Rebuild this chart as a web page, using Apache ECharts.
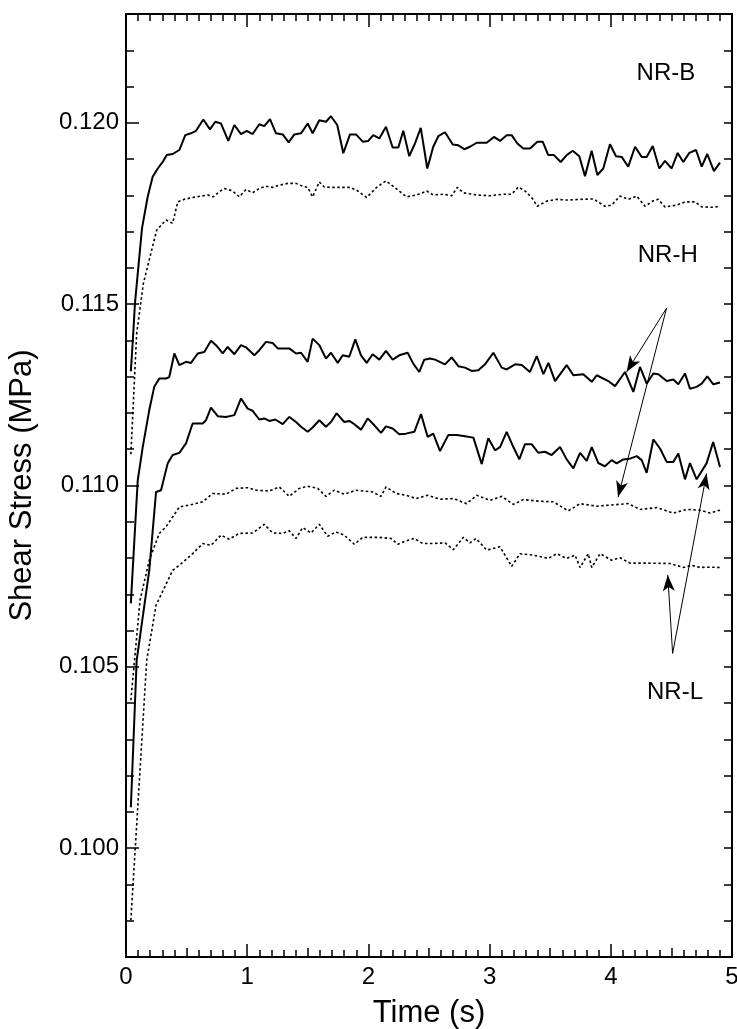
<!DOCTYPE html>
<html>
<head>
<meta charset="utf-8">
<script src="https://cdn.jsdelivr.net/npm/echarts@6/dist/echarts.min.js"></script>
<style>
  html, body { margin: 0; padding: 0; background: #fff; }
  #divChart { width: 737px; height: 1029px; }
</style>
</head>
<body>
<div id="divChart"></div>
<script>
// values, [time (s), shear stress (MPa)]
var nrbSolid = [[0.04,0.11315],[0.058,0.11409],[0.074,0.11503],[0.132,0.11709],[0.179,0.11796],[0.220,0.11851],[0.262,0.11874],[0.303,0.11892],[0.336,0.11911],[0.385,0.11914],[0.440,0.11925],[0.489,0.11966],[0.536,0.11971],[0.578,0.11978],[0.638,0.12009],[0.693,0.11982],[0.737,0.12003],[0.784,0.11998],[0.844,0.11950],[0.894,0.11994],[0.949,0.11969],[0.996,0.11978],[1.045,0.11969],[1.100,0.11996],[1.141,0.11991],[1.188,0.12010],[1.238,0.11971],[1.293,0.11968],[1.342,0.11946],[1.389,0.11968],[1.444,0.11971],[1.499,0.11998],[1.540,0.11971],[1.595,0.12007],[1.650,0.12003],[1.691,0.12018],[1.743,0.11994],[1.793,0.11916],[1.848,0.11968],[1.898,0.11968],[1.953,0.11948],[1.999,0.11950],[2.040,0.11966],[2.090,0.11957],[2.145,0.11989],[2.200,0.11932],[2.247,0.11932],[2.288,0.11978],[2.337,0.11908],[2.384,0.11943],[2.432,0.11986],[2.486,0.11874],[2.535,0.11934],[2.577,0.11963],[2.632,0.11974],[2.696,0.11940],[2.742,0.11938],[2.792,0.11927],[2.838,0.11934],[2.894,0.11945],[2.976,0.11945],[3.036,0.11961],[3.086,0.11950],[3.141,0.11966],[3.182,0.11966],[3.229,0.11943],[3.278,0.11929],[3.333,0.11929],[3.394,0.11948],[3.438,0.11948],[3.484,0.11911],[3.531,0.11911],[3.587,0.11892],[3.636,0.11911],[3.686,0.11923],[3.740,0.11908],[3.787,0.11853],[3.842,0.11923],[3.889,0.11856],[3.938,0.11874],[3.993,0.11941],[4.043,0.11908],[4.090,0.11906],[4.144,0.11879],[4.200,0.11934],[4.255,0.11906],[4.296,0.11906],[4.346,0.11936],[4.400,0.11874],[4.447,0.11895],[4.502,0.11874],[4.552,0.11917],[4.598,0.11892],[4.648,0.11917],[4.703,0.11925],[4.750,0.11879],[4.796,0.11914],[4.851,0.11867],[4.901,0.11890]];

var nrbDotted = [[0.04,0.11086],[0.088,0.11419],[0.143,0.11557],[0.253,0.11704],[0.330,0.11732],[0.385,0.11723],[0.427,0.11782],[0.481,0.11789],[0.550,0.11794],[0.619,0.11798],[0.674,0.11801],[0.720,0.11796],[0.770,0.11810],[0.811,0.11819],[0.880,0.11812],[0.935,0.11796],[0.990,0.11816],[1.045,0.11807],[1.100,0.11819],[1.155,0.11825],[1.210,0.11822],[1.265,0.11828],[1.334,0.11833],[1.403,0.11833],[1.458,0.11825],[1.499,0.11822],[1.540,0.11796],[1.595,0.11837],[1.636,0.11823],[1.705,0.11822],[1.766,0.11822],[1.848,0.11822],[1.903,0.11814],[1.986,0.11794],[2.068,0.11822],[2.145,0.11840],[2.205,0.11825],[2.261,0.11810],[2.316,0.11796],[2.399,0.11801],[2.481,0.11812],[2.535,0.11801],[2.618,0.11803],[2.687,0.11799],[2.734,0.11822],[2.783,0.11807],[2.894,0.11801],[3.003,0.11799],[3.113,0.11803],[3.182,0.11803],[3.237,0.11823],[3.292,0.11812],[3.347,0.11794],[3.394,0.11770],[3.471,0.11784],[3.554,0.11789],[3.636,0.11787],[3.746,0.11789],[3.856,0.11790],[3.952,0.11770],[4.007,0.11773],[4.076,0.11798],[4.144,0.11789],[4.214,0.11798],[4.282,0.11770],[4.351,0.11785],[4.392,0.11789],[4.447,0.11768],[4.544,0.11773],[4.612,0.11782],[4.695,0.11782],[4.750,0.11768],[4.846,0.11767],[4.901,0.11770]];

var nrhSolid = [[0.04,0.10675],[0.055,0.10766],[0.097,0.11015],[0.138,0.11106],[0.192,0.11208],[0.233,0.11272],[0.275,0.11295],[0.330,0.11295],[0.357,0.11299],[0.399,0.11364],[0.440,0.11332],[0.495,0.11341],[0.536,0.11338],[0.592,0.11364],[0.646,0.11368],[0.701,0.11399],[0.743,0.11387],[0.798,0.11364],[0.839,0.11382],[0.894,0.11362],[0.949,0.11387],[0.990,0.11381],[1.059,0.11359],[1.100,0.11373],[1.155,0.11396],[1.210,0.11393],[1.252,0.11378],[1.347,0.11378],[1.403,0.11364],[1.444,0.11366],[1.499,0.11341],[1.540,0.11405],[1.595,0.11387],[1.650,0.11350],[1.691,0.11366],[1.747,0.11338],[1.788,0.11359],[1.842,0.11355],[1.892,0.11403],[1.939,0.11359],[1.986,0.11338],[2.035,0.11362],[2.090,0.11347],[2.145,0.11371],[2.200,0.11347],[2.255,0.11359],[2.324,0.11366],[2.370,0.11336],[2.420,0.11313],[2.461,0.11347],[2.508,0.11350],[2.550,0.11347],[2.632,0.11334],[2.687,0.11353],[2.742,0.11329],[2.797,0.11325],[2.852,0.11316],[2.907,0.11318],[2.962,0.11334],[3.031,0.11366],[3.100,0.11325],[3.141,0.11320],[3.210,0.11334],[3.265,0.11332],[3.333,0.11313],[3.389,0.11357],[3.444,0.11307],[3.485,0.11338],[3.540,0.11288],[3.636,0.11332],[3.691,0.11304],[3.773,0.11307],[3.843,0.11286],[3.884,0.11304],[3.979,0.11288],[4.035,0.11274],[4.117,0.11313],[4.186,0.11258],[4.241,0.11327],[4.296,0.11281],[4.351,0.11309],[4.392,0.11307],[4.461,0.11288],[4.516,0.11292],[4.557,0.11279],[4.612,0.11309],[4.653,0.11267],[4.708,0.11272],[4.750,0.11281],[4.796,0.11301],[4.846,0.11279],[4.901,0.11284]];

var nrlSolid = [[0.04,0.10113],[0.088,0.10518],[0.192,0.10766],[0.248,0.10982],[0.289,0.10987],[0.344,0.11061],[0.385,0.11084],[0.440,0.11090],[0.495,0.11116],[0.550,0.11171],[0.633,0.11171],[0.660,0.11180],[0.701,0.11215],[0.757,0.11191],[0.825,0.11189],[0.894,0.11194],[0.949,0.11240],[1.004,0.11212],[1.045,0.11206],[1.100,0.11182],[1.141,0.11185],[1.182,0.11178],[1.232,0.11182],[1.293,0.11169],[1.347,0.11189],[1.403,0.11175],[1.444,0.11162],[1.499,0.11148],[1.540,0.11160],[1.595,0.11180],[1.650,0.11162],[1.691,0.11175],[1.738,0.11199],[1.801,0.11175],[1.842,0.11178],[1.884,0.11169],[1.939,0.11154],[1.994,0.11185],[2.049,0.11166],[2.104,0.11145],[2.145,0.11163],[2.200,0.11157],[2.255,0.11141],[2.310,0.11143],[2.379,0.11148],[2.434,0.11197],[2.489,0.11134],[2.535,0.11143],[2.591,0.11095],[2.659,0.11139],[2.729,0.11139],[2.797,0.11136],[2.866,0.11132],[2.935,0.11059],[2.989,0.11130],[3.045,0.11097],[3.086,0.11106],[3.141,0.11148],[3.196,0.11106],[3.245,0.11072],[3.292,0.11114],[3.347,0.11114],[3.402,0.11090],[3.457,0.11093],[3.512,0.11084],[3.581,0.11106],[3.636,0.11072],[3.691,0.11047],[3.746,0.11090],[3.801,0.11068],[3.843,0.11106],[3.897,0.11062],[3.952,0.11053],[4.007,0.11070],[4.048,0.11061],[4.103,0.11072],[4.158,0.11074],[4.214,0.11081],[4.255,0.11070],[4.296,0.11035],[4.351,0.11127],[4.406,0.11102],[4.461,0.11065],[4.516,0.11065],[4.557,0.11088],[4.612,0.11017],[4.653,0.11062],[4.708,0.11017],[4.790,0.11061],[4.845,0.11120],[4.901,0.11051]];

var nrhDotted = [[0.04,0.10408],[0.116,0.10684],[0.192,0.10794],[0.233,0.10831],[0.275,0.10868],[0.330,0.10886],[0.385,0.10913],[0.440,0.10941],[0.522,0.10946],[0.633,0.10955],[0.715,0.10978],[0.825,0.10976],[0.908,0.10992],[1.004,0.10994],[1.073,0.10987],[1.182,0.10985],[1.265,0.10996],[1.347,0.10970],[1.430,0.10992],[1.499,0.10998],[1.582,0.10992],[1.650,0.10970],[1.719,0.10987],[1.801,0.10976],[1.898,0.10987],[2.035,0.10982],[2.104,0.10970],[2.145,0.10996],[2.228,0.10978],[2.310,0.10973],[2.393,0.10964],[2.489,0.10973],[2.591,0.10962],[2.701,0.10964],[2.811,0.10950],[2.894,0.10973],[3.003,0.10959],[3.100,0.10970],[3.196,0.10948],[3.278,0.10961],[3.402,0.10957],[3.526,0.10955],[3.649,0.10930],[3.746,0.10950],[3.884,0.10943],[3.993,0.10946],[4.144,0.10950],[4.241,0.10934],[4.379,0.10939],[4.516,0.10924],[4.626,0.10934],[4.736,0.10932],[4.818,0.10924],[4.901,0.10932]];

var nrlDotted = [[0.04,0.09801],[0.171,0.10518],[0.248,0.10670],[0.385,0.10766],[0.440,0.10780],[0.550,0.10812],[0.633,0.10840],[0.701,0.10835],[0.784,0.10863],[0.852,0.10852],[0.935,0.10868],[1.045,0.10869],[1.141,0.10893],[1.210,0.10869],[1.293,0.10868],[1.347,0.10875],[1.403,0.10854],[1.458,0.10884],[1.526,0.10869],[1.595,0.10893],[1.664,0.10860],[1.733,0.10872],[1.801,0.10863],[1.884,0.10838],[1.953,0.10857],[2.090,0.10857],[2.186,0.10854],[2.241,0.10838],[2.310,0.10847],[2.379,0.10854],[2.448,0.10840],[2.535,0.10840],[2.632,0.10842],[2.701,0.10823],[2.783,0.10857],[2.838,0.10842],[2.888,0.10854],[2.976,0.10822],[3.086,0.10831],[3.182,0.10777],[3.251,0.10812],[3.361,0.10808],[3.484,0.10799],[3.554,0.10812],[3.636,0.10799],[3.705,0.10808],[3.746,0.10774],[3.814,0.10812],[3.843,0.10774],[3.911,0.10812],[4.007,0.10794],[4.076,0.10801],[4.158,0.10786],[4.296,0.10786],[4.488,0.10785],[4.598,0.10774],[4.668,0.10780],[4.736,0.10774],[4.818,0.10775],[4.901,0.10774]];

var xLabels = [0, 1, 2, 3, 4, 5];
var xHalf = [0.5, 1.5, 2.5, 3.5, 4.5];
var yLabels = [0.100, 0.105, 0.110, 0.115, 0.120];

// annotations: text position and arrows (tail -> head), in data units
var tagText = [['NR-B', 4.455, 0.12137], ['NR-H', 4.47, 0.11635], ['NR-L', 4.53, 0.1043]];
var arrowLines = [
    [[4.46, 0.11489], [4.13, 0.11313]],
    [[4.46, 0.11489], [4.06, 0.10968]],
    [[4.51, 0.10537], [4.47, 0.10753]],
    [[4.51, 0.10537], [4.79, 0.11033]]
];

var chart;
var FONT = '"Liberation Sans", Arial, Helvetica, sans-serif';

function tickAxis(pos, opts) {
    var a = {
        type: 'value',
        position: pos,
        offset: 0,
        min: opts.min,
        max: opts.max,
        interval: opts.interval,
        axisLine: { show: !!opts.line, onZero: false, lineStyle: { color: '#000', width: 2 } },
        axisTick: { show: true, inside: true, length: opts.len, lineStyle: { color: '#000', width: 1.5 } },
        axisLabel: { show: false },
        splitLine: { show: false }
    };
    if (opts.custom) a.axisTick.customValues = opts.custom;
    return a;
}

function chart_init() {
    chart = echarts.init(document.getElementById('divChart'));

    var xBottom = tickAxis('bottom', { min: 0, max: 5, interval: 1, len: 13, line: true, custom: xLabels });
    xBottom.axisLabel = {
        show: true, customValues: xLabels, color: '#000', fontSize: 24, fontFamily: FONT, margin: 8
    };
    xBottom.name = 'Time (s)';
    xBottom.nameLocation = 'middle';
    xBottom.nameGap = 41;
    xBottom.nameTextStyle = { color: '#000', fontSize: 31, fontFamily: FONT };

    var yLeft = tickAxis('left', { min: 0.097, max: 0.123, interval: 0.001, len: 13, line: true, custom: yLabels });
    yLeft.axisLabel = {
        show: true, customValues: yLabels, color: '#000', fontSize: 24, fontFamily: FONT, margin: 7,
        formatter: function (v) { return v.toFixed(3); }
    };
    yLeft.name = 'Shear Stress (MPa)';
    yLeft.nameLocation = 'middle';
    yLeft.nameGap = 88;
    yLeft.nameTextStyle = { color: '#000', fontSize: 31, fontFamily: FONT };

    var lineDefs = [
        [nrbSolid, 'solid'], [nrbDotted, 'dot'],
        [nrhSolid, 'solid'], [nrlSolid, 'solid'],
        [nrhDotted, 'dot'], [nrlDotted, 'dot']
    ];
    var series = lineDefs.map(function (d) {
        return {
            type: 'line',
            data: d[0],
            showSymbol: false,
            symbol: 'none',
            silent: true,
            lineStyle: d[1] === 'solid'
                ? { color: '#000', width: 2 }
                : { color: '#000', width: 1.6, type: [2.5, 2.5] }
        };
    });

    series[0].markLine = {
        silent: true,
        symbol: ['none', 'arrow'],
        symbolSize: [9, 16],
        label: { show: false },
        lineStyle: { color: '#000', width: 1, type: 'solid' },
        data: arrowLines.map(function (a) {
            return [{ coord: a[0] }, { coord: a[1] }];
        })
    };
    series[0].markPoint = {
        silent: true,
        symbol: 'circle',
        symbolSize: 0,
        label: { show: true, position: 'inside', formatter: '{b}', color: '#000', fontSize: 24, fontFamily: FONT },
        data: tagText.map(function (t) {
            return { name: t[0], coord: [t[1], t[2]] };
        })
    };

    var option = {
        animation: false,
        backgroundColor: '#fff',
        grid: { left: 126, right: 5, top: 14, bottom: 72, outerBoundsMode: 'none' },
        xAxis: [
            xBottom,
            tickAxis('bottom', { min: 0, max: 5, interval: 0.1, len: 7 }),
            tickAxis('bottom', { min: 0, max: 5, interval: 0.5, len: 9, custom: xHalf }),
            tickAxis('top', { min: 0, max: 5, interval: 0.1, len: 7, line: true }),
            tickAxis('top', { min: 0, max: 5, interval: 1, len: 13, custom: xLabels })
        ],
        yAxis: [
            yLeft,
            tickAxis('left', { min: 0.097, max: 0.123, interval: 0.001, len: 8 }),
            tickAxis('right', { min: 0.097, max: 0.123, interval: 0.001, len: 8, line: true })
        ],
        series: series
    };
    chart.setOption(option);
}

chart_init();
</script>
</body>
</html>
